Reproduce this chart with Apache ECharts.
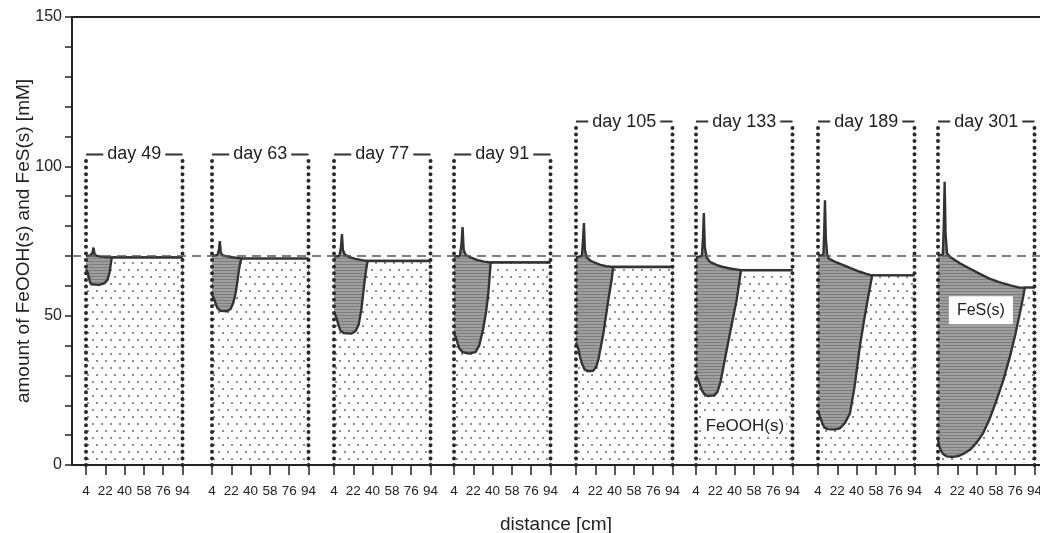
<!DOCTYPE html>
<html><head><meta charset="utf-8">
<script src="https://cdn.jsdelivr.net/npm/echarts@6/dist/echarts.min.js"></script>
<style>html,body{margin:0;padding:0;background:#fff}#c{width:1040px;height:533px}</style>
</head><body><div id="c"></div>
<script>
// ---------- data ----------
const days = [49, 63, 77, 91, 105, 133, 189, 301];
const xTicks = [4, 22, 40, 58, 76, 94];
const yTicks = [0, 50, 100, 150];
const initialFe = 70; // dashed reference level [mM]

// total solid Fe = FeOOH(s) + FeS(s)  [distance cm, mM]
const total49  = [[4,70],[8,70.2],[10,71],[11,72.8],[12,70.6],[14,70],[20,69.7],[28,69.5],[94,69.5]];
const total63  = [[4,70],[9,70.3],[10.5,72],[11.3,75],[12.2,71],[14,70.2],[20,69.7],[28,69.3],[33,69.1],[94,69.1]];
const total77  = [[4,69.8],[9,70],[10.5,73],[11.4,77.3],[12.3,72],[14,70.5],[18,69.7],[23,69.1],[30,68.6],[35.5,68.3],[94,68.3]];
const total91  = [[4,69.8],[9.5,70],[11,74],[12,79.7],[13,72],[15,70.3],[20,69.4],[26,68.6],[32,68.1],[38,67.8],[94,67.8]];
const total105 = [[4,69.5],[9.5,70],[10.5,75],[11.4,81],[12.3,72],[14,69.5],[18,68.3],[26,67.1],[32,66.6],[38.5,66.3],[94,66.3]];
const total133 = [[4,69.5],[9.5,70],[10.5,76],[11.3,84.4],[12.2,73],[14,69.5],[17,68],[23,67],[29,66.3],[37,65.7],[46,65.2],[94,65.2]];
const total189 = [[4,70],[9,70.3],[9.8,78],[10.5,88.6],[11.3,76],[12.5,70.5],[14,69.1],[20,68],[27.6,66.9],[35,65.8],[43,64.7],[49,64],[54,63.5],[94,63.5]];
const total301 = [[4,70],[8.5,70.5],[9.4,80],[10.2,94.8],[11,78],[12.3,71],[15,69.7],[24,67.6],[33.5,65.8],[43,64],[52,62.4],[61,61.2],[70.7,60.2],[80,59.4],[94,59.4]];

// FeOOH(s)  [distance cm, mM]
const feooh49  = [[4,65.5],[5.5,64.5],[6.5,63],[7.5,61.5],[9,60.5],[16,60.3],[21,60.8],[24,62],[26,64.5],[27.2,67.5],[28,69.5],[94,69.5]];
const feooh63  = [[4,57],[5.5,56],[6.5,55.5],[7,54.5],[9,52.5],[12,51.6],[18,51.5],[21.5,52.3],[24,54.5],[26,57.5],[27.5,61],[29,65],[30.5,68],[31.6,69.1],[94,69.1]];
const feooh77  = [[4,51],[5.5,50],[7,48.5],[8,47],[10,45],[13,44.2],[20,44],[24,44.8],[27,47],[29.5,52],[32,60],[34,65.5],[35.3,68.3],[94,68.3]];
const feooh91  = [[4,44],[5.5,43],[6.5,42],[7.5,40.5],[9,39],[12,37.8],[18,37.3],[24,37.8],[27.5,40],[31,45.2],[34,51.5],[36,57.4],[37.2,63],[38.2,67.8],[94,67.8]];
const feooh105 = [[4,41],[5.5,39.5],[6.5,38.5],[7.5,36.5],[9.5,34],[12,32],[15,31.4],[20,31.5],[23,33],[25,35.5],[29.5,44],[34,55],[37,61.5],[38.7,66.3],[94,66.3]];
const feooh133 = [[4,30],[5.5,29],[6.5,28.5],[7.5,27],[9.5,25],[12,23.6],[15,23.1],[21,23.3],[24,24.5],[27,28],[32.6,38.5],[37,46.5],[41.9,55.2],[44.5,61.5],[45.9,65.2],[94,65.2]];
const feooh189 = [[4,18],[5.5,16.5],[7,15],[8,14],[10,12.5],[13,12],[20,11.9],[24.5,12.3],[29,14],[33.8,17.3],[38,26],[43,39.6],[47,48.5],[50.8,56.3],[53,60.5],[54.5,63.5],[94,63.5]];
const feooh301 = [[4,8.5],[5,6.5],[6.5,5],[8.5,3.8],[12,2.9],[18,2.7],[23,3],[28,3.8],[33.5,5],[40,7.5],[46,10.6],[52,15.3],[58.6,21.7],[65,28.5],[71,36.2],[76,43.5],[80.3,50.7],[83,55.5],[85,59.4],[94,59.4]];

const totals = [total49,total63,total77,total91,total105,total133,total189,total301];
const feoohs = [feooh49,feooh63,feooh77,feooh91,feooh105,feooh133,feooh189,feooh301];

// ---------- styling / layout ----------
const FONT = 'Liberation Sans, Arial, Helvetica, sans-serif';
const INK = '#222';
const panelLeft = [86, 212, 334, 454, 576, 696, 818, 938];
const panelWidth = 96.5;

function dotPattern(){
  const c = document.createElement('canvas'); c.width = 9; c.height = 14;
  const g = c.getContext('2d');
  g.fillStyle = '#fff'; g.fillRect(0,0,9,14);
  g.fillStyle = '#8e8e8e'; g.fillRect(2,3,2,2); g.fillRect(6,10,2,2);
  return c;
}
function hatchPattern(){
  const c = document.createElement('canvas'); c.width = 4; c.height = 3;
  const g = c.getContext('2d');
  g.fillStyle = '#9e9e9e'; g.fillRect(0,0,4,3);
  g.fillStyle = '#7e7e7e'; g.fillRect(0,0,4,1);
  return c;
}
const dots = {image: dotPattern(), repeat: 'repeat'};
const hatch = {image: hatchPattern(), repeat: 'repeat'};

const grids = [{left: 72, right: 0, top: 17, bottom: 68, outerBoundsMode: 'none', containLabel: false}];
const xAxes = [
  {gridIndex: 0, type: 'value', min: 0, max: 1, position: 'bottom',
   axisLine: {show: true, lineStyle: {color: INK, width: 2}}, axisTick: {show: false},
   axisLabel: {show: false}, splitLine: {show: false},
   name: 'distance [cm]', nameLocation: 'middle', nameGap: 50, nameMoveOverlap: false,
   nameTextStyle: {fontFamily: FONT, fontSize: 19, color: INK}},
  {gridIndex: 0, type: 'value', min: 0, max: 1, position: 'top',
   axisLine: {show: true, lineStyle: {color: INK, width: 2}}, axisTick: {show: false},
   axisLabel: {show: false}, splitLine: {show: false}}
];
const yAxes = [
  {gridIndex: 0, type: 'value', min: yTicks[0], max: yTicks[yTicks.length-1], interval: 50,
   axisLine: {show: true, lineStyle: {color: INK, width: 2}},
   axisTick: {show: true, inside: false, length: 7, lineStyle: {color: INK, width: 1.5}},
   minorTick: {show: true, splitNumber: 5, length: 7, lineStyle: {color: INK, width: 1.5}},
   axisLabel: {fontFamily: FONT, fontSize: 16, color: INK, margin: 10},
   splitLine: {show: false},
   name: 'amount of FeOOH(s) and FeS(s) [mM]', nameLocation: 'middle', nameGap: 39, nameRotate: 90,
   nameMoveOverlap: false,
   nameTextStyle: {fontFamily: FONT, fontSize: 19, color: INK}}
];
const series = [
  {type: 'line', xAxisIndex: 0, yAxisIndex: 0, data: [[0, initialFe], [1, initialFe]],
   symbol: 'none', silent: true, z: 10, clip: false,
   lineStyle: {color: '#555', width: 1.5, type: [9, 6]}},
  {type: 'line', xAxisIndex: 0, yAxisIndex: 0, data: [[0, 0], [1, 0]],
   symbol: 'none', silent: true, z: 10, clip: false,
   lineStyle: {color: INK, width: 2}}
];

function textMark(xi, yi, pt, text, size, pad, z){
  return {type: 'scatter', xAxisIndex: xi, yAxisIndex: yi, data: [pt], symbolSize: 1,
    itemStyle: {color: 'rgba(0,0,0,0)', opacity: 1}, silent: true, z: z,
    label: {show: true, position: 'inside', formatter: text, fontFamily: FONT, fontSize: size,
            color: INK, opacity: 1, backgroundColor: '#fff', padding: pad}};
}

days.forEach((d, i) => {
  const gi = i + 1, xi = i + 2, yi = i + 1;
  const top = i < 4 ? 104 : 115;
  grids.push({left: panelLeft[i], width: panelWidth, top: 17, bottom: 68, outerBoundsMode: 'none', containLabel: false});
  xAxes.push({gridIndex: gi, type: 'value', min: xTicks[0], max: xTicks[xTicks.length-1], interval: 18,
    axisLine: {show: false},
    axisTick: {show: true, length: 10, lineStyle: {color: INK, width: 1.5}},
    axisLabel: {fontFamily: FONT, fontSize: 13.5, color: INK, margin: 19,
                showMinLabel: true, showMaxLabel: true, hideOverlap: false},
    splitLine: {show: false}});
  yAxes.push({gridIndex: gi, type: 'value', min: 0, max: 150, show: false});
  const base = {xAxisIndex: xi, yAxisIndex: yi, symbol: 'none', silent: true, clip: false, animation: false};
  series.push(Object.assign({type: 'line', name: 'FeS(s)', data: totals[i], z: 2,
    lineStyle: {color: '#333', width: 2.4}, areaStyle: {color: hatch, opacity: 1}}, base));
  series.push(Object.assign({type: 'line', name: 'FeOOH(s)', data: feoohs[i], z: 3,
    lineStyle: {color: '#333', width: 2.4}, areaStyle: {color: dots, opacity: 1}}, base));
  // dotted box walls and top bar
  [4, 94].forEach(xw => {
    series.push(Object.assign({type: 'line', data: [[xw, 0], [xw, top - 1]], z: 5,
      lineStyle: {color: '#2a2a2a', width: 4, type: [0.01, 6.6], cap: 'round'}}, base));
  });
  series.push(Object.assign({type: 'line', data: [[4, top], [94, top]], z: 5,
    lineStyle: {color: '#333', width: 2}}, base));
  series.push(textMark(xi, yi, [49, top], 'day ' + d, 18, [1, 4], 6));
});

// annotations
series.push(textMark(9, 8, [44, 51.8], 'FeS(s)', 16, [6, 8], 7));
series.push(textMark(7, 6, [49.6, 13.1], 'FeOOH(s)', 17, [2, 2], 7));

const chart = echarts.init(document.getElementById('c'), null, {renderer: 'canvas'});
chart.setOption({animation: false, backgroundColor: '#fff', grid: grids, xAxis: xAxes, yAxis: yAxes, series: series});
</script></body></html>
